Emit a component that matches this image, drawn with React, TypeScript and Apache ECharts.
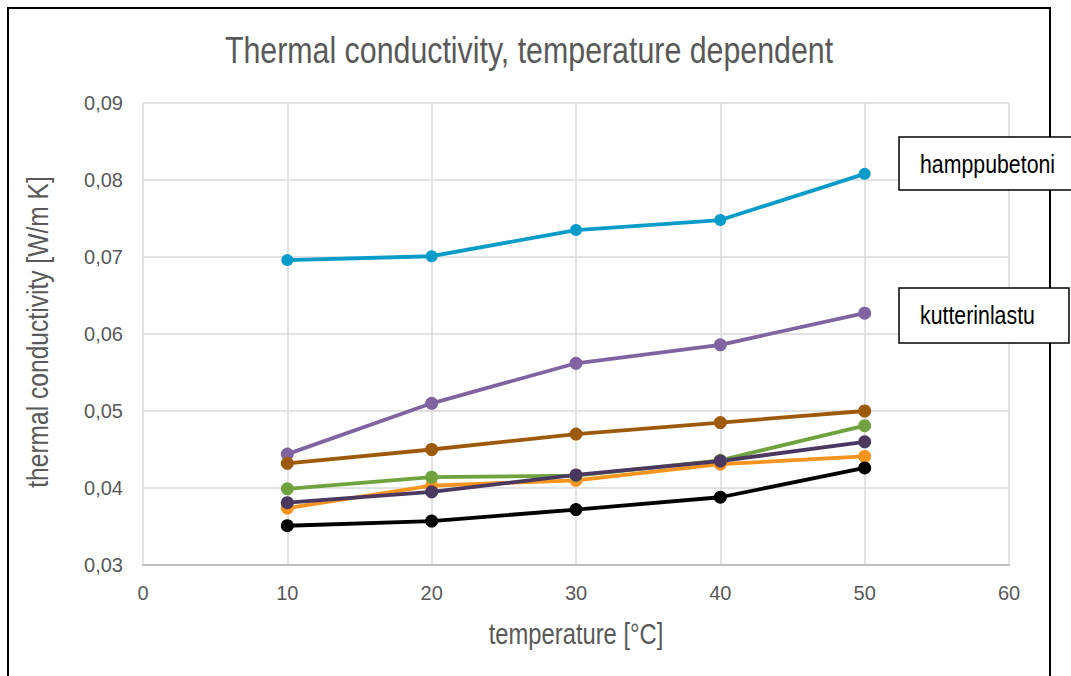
import React, { useEffect, useRef } from "react";
import * as echarts from "echarts";

const temperatures = [10, 20, 30, 40, 50];
const hamppubetoni = [0.0696, 0.0701, 0.0735, 0.0748, 0.0808];
const kutterinlastu = [0.0444, 0.051, 0.0562, 0.0586, 0.0627];
const seriesBrown = [0.0432, 0.045, 0.047, 0.0485, 0.05];
const seriesOrange = [0.0374, 0.0403, 0.041, 0.0431, 0.0441];
const seriesGreen = [0.0399, 0.0414, 0.0416, 0.0436, 0.0481];
const seriesDarkPurple = [0.0381, 0.0395, 0.0417, 0.0435, 0.046];
const seriesBlack = [0.0351, 0.0357, 0.0372, 0.0388, 0.0426];

const FONT = "'Liberation Sans', Arial, sans-serif";
const NARROW = 0.82;

const seriesDefs = [
  { name: "hamppubetoni", data: hamppubetoni, color: "#0A9CC8", size: 12 },
  { name: "kutterinlastu", data: kutterinlastu, color: "#8064A2", size: 13 },
  { name: "sarja 3", data: seriesBrown, color: "#9E5A0C", size: 13 },
  { name: "sarja 4", data: seriesOrange, color: "#F7941D", size: 13 },
  { name: "sarja 5", data: seriesGreen, color: "#70A23F", size: 13 },
  { name: "sarja 6", data: seriesDarkPurple, color: "#4B3861", size: 13 },
  { name: "sarja 7", data: seriesBlack, color: "#000000", size: 13 },
];

export default function App() {
  const ref = useRef<HTMLDivElement>(null);
  useEffect(() => {
    if (!ref.current) return;
    const chart = echarts.init(ref.current, undefined, { renderer: "svg" });
    chart.setOption({
      animation: false,
      backgroundColor: "#ffffff",
      grid: { left: 143, right: 62, top: 103, bottom: 111 },
      xAxis: {
        type: "value",
        min: 0,
        max: 60,
        interval: 10,
        axisLine: { show: true, lineStyle: { color: "#BFBFBF", width: 2 } },
        axisTick: { show: false },
        axisLabel: { color: "#595959", fontSize: 20, fontFamily: FONT, margin: 18 },
        splitLine: { show: true, lineStyle: { color: "#D9D9D9", width: 1.5 } },
      },
      yAxis: {
        type: "value",
        min: 0.03,
        max: 0.09,
        interval: 0.01,
        axisLine: { show: false },
        axisTick: { show: false },
        axisLabel: {
          color: "#595959",
          fontSize: 20,
          fontFamily: FONT,
          margin: 20,
          formatter: (v: number) => v.toFixed(2).replace(".", ","),
        },
        splitLine: { show: true, lineStyle: { color: "#D9D9D9", width: 1.5 } },
      },
      series: seriesDefs.map((s) => ({
        name: s.name,
        type: "line",
        data: temperatures.map((t, i) => [t, s.data[i]]),
        symbol: "circle",
        symbolSize: s.size,
        lineStyle: { color: s.color, width: 3.8 },
        itemStyle: { color: s.color },
      })),
      graphic: [
        {
          type: "rect",
          shape: { x: 8, y: 8, width: 1042, height: 720 },
          style: { fill: "none", stroke: "#000", lineWidth: 2 },
          z: 50,
        },
        {
          type: "text",
          x: 529,
          y: 50,
          scaleX: NARROW,
          style: {
            text: "Thermal conductivity, temperature dependent",
            fontFamily: FONT,
            fontSize: 37,
            fill: "#595959",
            align: "center",
            verticalAlign: "middle",
          },
        },
        {
          type: "text",
          x: 38,
          y: 332,
          rotation: Math.PI / 2,
          scaleX: NARROW,
          style: {
            text: "thermal conductivity [W/m K]",
            fontFamily: FONT,
            fontSize: 30,
            fill: "#595959",
            align: "center",
            verticalAlign: "middle",
          },
        },
        {
          type: "text",
          x: 576,
          y: 634,
          scaleX: NARROW,
          style: {
            text: "temperature [°C]",
            fontFamily: FONT,
            fontSize: 29,
            fill: "#595959",
            align: "center",
            verticalAlign: "middle",
          },
        },
        {
          type: "rect",
          shape: { x: 899, y: 137, width: 190, height: 53 },
          style: { fill: "#fff", stroke: "#000", lineWidth: 1.5 },
          z: 100,
        },
        {
          type: "text",
          x: 920,
          y: 164,
          z: 101,
          scaleX: NARROW,
          style: {
            text: "hamppubetoni",
            fontFamily: FONT,
            fontSize: 26,
            fill: "#000",
            verticalAlign: "middle",
          },
        },
        {
          type: "rect",
          shape: { x: 899, y: 288, width: 170, height: 55 },
          style: { fill: "#fff", stroke: "#000", lineWidth: 1.5 },
          z: 100,
        },
        {
          type: "text",
          x: 920,
          y: 315,
          z: 101,
          scaleX: NARROW,
          style: {
            text: "kutterinlastu",
            fontFamily: FONT,
            fontSize: 26,
            fill: "#000",
            verticalAlign: "middle",
          },
        },
      ],
    });
    return () => chart.dispose();
  }, []);
  return (
    <div
      ref={ref}
      style={{ position: "absolute", left: 0, top: 0, width: 1071, height: 676 }}
    />
  );
}
